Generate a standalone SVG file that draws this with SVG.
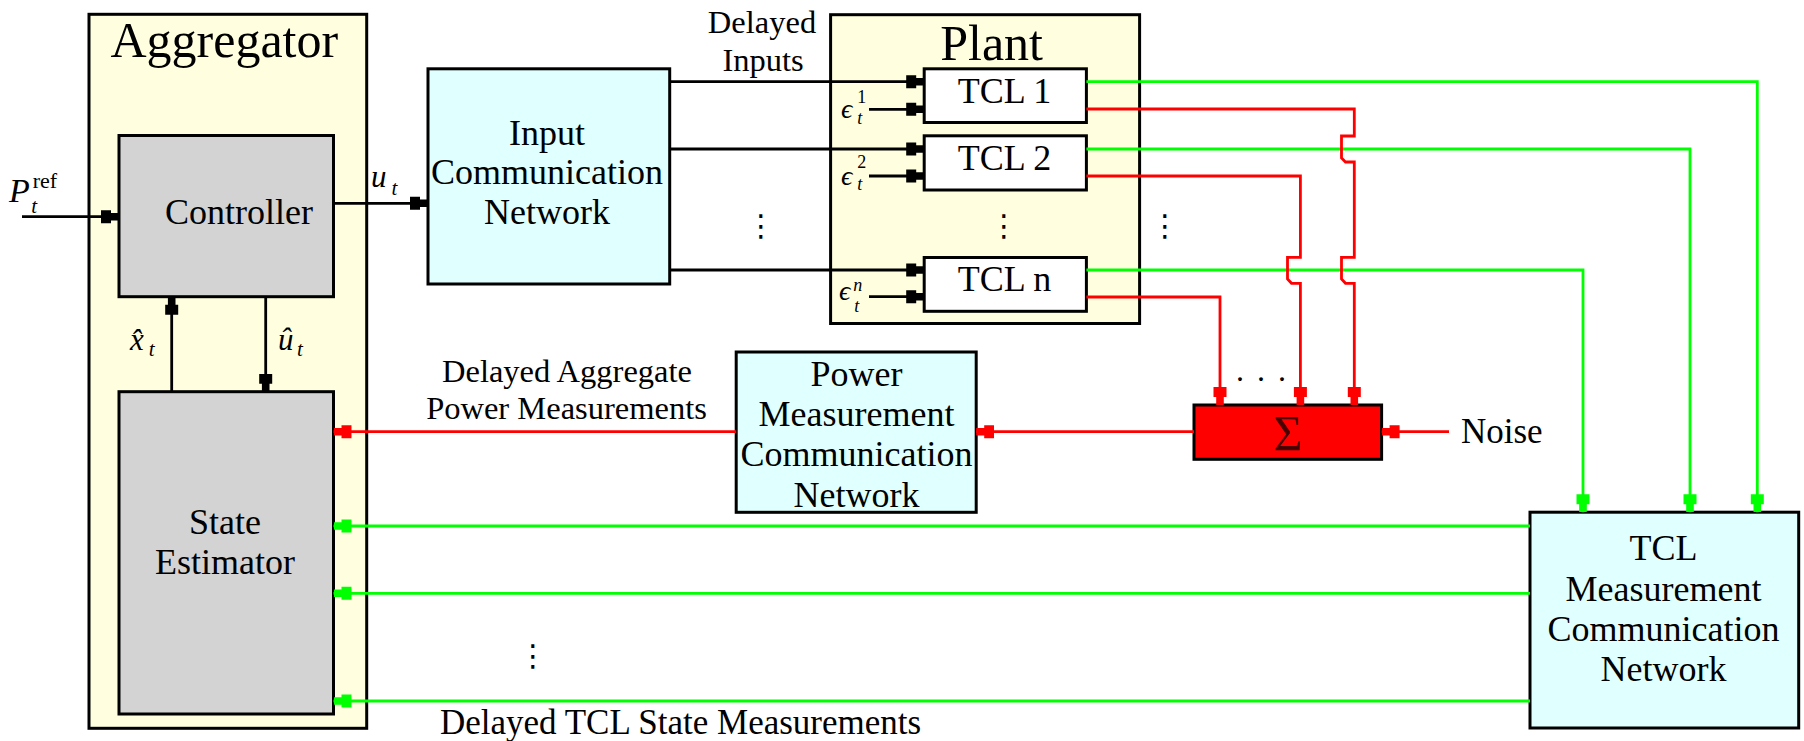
<svg xmlns="http://www.w3.org/2000/svg" width="1804" height="741" viewBox="0 0 1804 741" font-family="'Liberation Serif', 'Times New Roman', serif">
<defs>
<style>
text { font-family: "Liberation Serif", "Times New Roman", "DejaVu Serif", serif; fill: #000; }
.c { text-anchor: middle; }
.b { font-size: 36px; }
.h { font-size: 50px; }
.s { font-size: 32.5px; }
.m { font-size: 31px; font-style: italic; }
.eps { font-size: 28px; font-style: italic; }
.dots { font-family: "DejaVu Sans", sans-serif; font-size: 30px; text-anchor: middle; }
.box { stroke: #000; stroke-width: 3; }
.yel { fill: #FFFFE0; }
.gry { fill: #D3D3D3; }
.cyn { fill: #E0FFFF; }
.wht { fill: #FFFFFF; }
.k { fill: none; stroke: #000; stroke-width: 2.8; }
.r { fill: none; stroke: #FF0000; stroke-width: 2.8; }
.g { fill: none; stroke: #00FF00; stroke-width: 2.8; }
.ka { marker-end: url(#ak); }
.ra { marker-end: url(#ar); }
.ga { marker-end: url(#ag); }
</style>
<marker id="ak" viewBox="0 -7 18 14" refX="18" refY="0" markerWidth="18" markerHeight="14" markerUnits="userSpaceOnUse" orient="auto"><path d="M0,-6.5H10V-3.8H18V3.8H10V6.5H0Z" fill="#000"/></marker>
<marker id="ar" viewBox="0 -7 18 14" refX="18" refY="0" markerWidth="18" markerHeight="14" markerUnits="userSpaceOnUse" orient="auto"><path d="M0,-6.5H10V-3.8H18V3.8H10V6.5H0Z" fill="#FF0000"/></marker>
<marker id="ag" viewBox="0 -7 18 14" refX="18" refY="0" markerWidth="18" markerHeight="14" markerUnits="userSpaceOnUse" orient="auto"><path d="M0,-6.5H10V-3.8H18V3.8H10V6.5H0Z" fill="#00FF00"/></marker>
</defs>
<rect x="0" y="0" width="1804" height="741" fill="#FFFFFF"/>

<g id="aggregator">
<rect class="yel box" x="89" y="14.3" width="277.7" height="714" stroke-width="3.3"/>
<text class="h c" x="224.3" y="56.7">Aggregator</text>
</g>
<g id="controller">
<rect class="gry box" x="119" y="135.5" width="214.5" height="161.2" stroke-width="2.8"/>
<text class="b c" x="239" y="224">Controller</text>
</g>
<g id="state-estimator">
<rect class="gry box" x="119" y="391.7" width="214.5" height="322.3" stroke-width="2.8"/>
<text class="b c" x="225" y="534">State</text>
<text class="b c" x="225" y="574">Estimator</text>
</g>
<g id="input-network">
<rect class="cyn box" x="428" y="68.8" width="241.7" height="215.2"/>
<text class="b c" x="547" y="145">Input</text>
<text class="b c" x="547" y="184.3">Communication</text>
<text class="b c" x="547" y="224">Network</text>
</g>
<g id="plant">
<rect class="yel box" x="830.6" y="14.7" width="309" height="308.8"/>
<text class="h c" x="991.6" y="60">Plant</text>
</g>
<g id="tcl1">
<rect class="wht box" x="924.2" y="68.8" width="162.2" height="53.7"/>
<text class="b c" x="1004.5" y="103">TCL 1</text>
</g>
<g id="tcl2">
<rect class="wht box" x="924.2" y="135.8" width="162.2" height="54.2"/>
<text class="b c" x="1004.5" y="170">TCL 2</text>
</g>
<g id="tcln">
<rect class="wht box" x="924.2" y="257.5" width="162.2" height="53.8"/>
<text class="b c" x="1004.5" y="291">TCL n</text>
</g>
<g id="power-network">
<rect class="cyn box" x="736.2" y="352" width="240" height="160.3"/>
<text class="b c" x="856.5" y="386">Power</text>
<text class="b c" x="856.5" y="426">Measurement</text>
<text class="b c" x="856.5" y="466">Communication</text>
<text class="b c" x="856.5" y="506.7">Network</text>
</g>
<g id="sum">
<rect class="box" fill="#FF0000" x="1194" y="405" width="187.6" height="54.3" stroke-width="3.3"/>
<text class="c" x="1288" y="450" style="font-size:50px; fill:#4A0000">Σ</text>
</g>
<g id="tcl-network">
<rect class="cyn box" x="1530" y="512.2" width="268.7" height="215.8"/>
<text class="b c" x="1663.5" y="560">TCL</text>
<text class="b c" x="1663.5" y="601">Measurement</text>
<text class="b c" x="1663.5" y="640.7">Communication</text>
<text class="b c" x="1663.5" y="680.7">Network</text>
</g>

<g id="connectors">
<path class="k ka" d="M22,216.7H119"/>
<path class="k ka" d="M333.5,203.3H428"/>
<path class="k ka" d="M171.7,391.7V296.7"/>
<path class="k ka" d="M265.7,296.7V391.7"/>
<path class="k ka" d="M669.7,81.7H924.2"/>
<path class="k ka" d="M669.7,149H924.2"/>
<path class="k ka" d="M669.7,270H924.2"/>
<path class="k ka" d="M869,109.3H924.2"/>
<path class="k ka" d="M869,176H924.2"/>
<path class="k ka" d="M869,296.7H924.2"/>
<path class="g ga" d="M1086.4,81.7H1757.3V512.2"/>
<path class="g ga" d="M1086.4,149H1690V512.2"/>
<path class="g ga" d="M1086.4,270H1583V512.2"/>
<path class="r ra" d="M1086.4,109H1354.3V136H1341.5V158L1345.5,162H1354.3V257.3H1341.5V279L1345.5,283.3H1354.3V405"/>
<path class="r ra" d="M1086.4,176H1300.4V257.3H1287.5V279L1291.5,283.3H1300.4V405"/>
<path class="r ra" d="M1086.4,297H1220V405"/>
<path class="r ra" d="M1449,431.7H1381.6"/>
<path class="r ra" d="M1194,431.7H976.2"/>
<path class="r ra" d="M736.2,431.7H333.5"/>
<path class="g ga" d="M1530,526H333.5"/>
<path class="g ga" d="M1530,593.3H333.5"/>
<path class="g ga" d="M1530,701H333.5"/>
</g>

<g id="labels">
<text x="9" y="202" style="font-size:34px; font-style:italic">P<tspan dx="3" dy="-14" style="font-size:22px; font-style:normal">ref</tspan><tspan dx="-26" dy="25" style="font-size:21px">t</tspan></text>
<text class="m" x="371" y="187">u<tspan dx="5" dy="8" style="font-size:21px">t</tspan></text>
<text class="m" x="130" y="350">x̂<tspan dx="5" dy="6" style="font-size:21px">t</tspan></text>
<text class="m" x="278" y="350">û<tspan dx="3.5" dy="6" style="font-size:21px">t</tspan></text>
<text class="s c" x="762" y="33">Delayed</text>
<text class="s c" x="763" y="70.7">Inputs</text>
<text class="eps" x="841" y="118">ϵ<tspan dx="5" dy="-15" style="font-size:18px; font-style:normal">1</tspan><tspan dx="-9" dy="21" style="font-size:18px">t</tspan></text>
<text class="eps" x="841" y="185">ϵ<tspan dx="5" dy="-17" style="font-size:18px; font-style:normal">2</tspan><tspan dx="-9" dy="22" style="font-size:18px">t</tspan></text>
<text class="eps" x="839" y="300">ϵ<tspan dx="3" dy="-9" style="font-size:18px">n</tspan><tspan dx="-8" dy="21" style="font-size:18px">t</tspan></text>
<text class="s c" x="567" y="382">Delayed Aggregate</text>
<text class="s c" x="566.5" y="419">Power Measurements</text>
<text x="1461" y="443" style="font-size:35px">Noise</text>
<text x="440" y="734.3" style="font-size:35px">Delayed TCL State Measurements</text>
<text class="dots" x="761" y="236">⋮</text>
<text class="dots" x="1004" y="236">⋮</text>
<text class="dots" x="1165" y="236">⋮</text>
<text class="dots" x="533" y="666">⋮</text>
<text class="c" x="1240 1261 1282" y="381" style="font-size:32px">...</text>
</g>
</svg>
